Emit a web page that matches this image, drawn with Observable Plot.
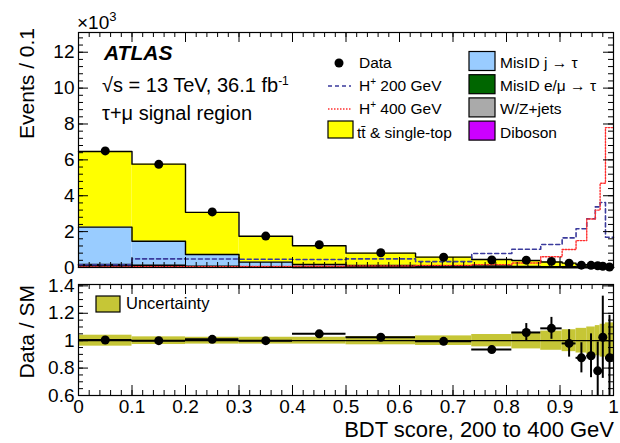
<!DOCTYPE html>
<html>
<head>
<meta charset="utf-8">
<script src="https://cdn.jsdelivr.net/npm/d3@7"></script>
<script src="https://cdn.jsdelivr.net/npm/@observablehq/plot@0.6"></script>
<style>
  html, body { margin: 0; padding: 0; background: #fff; }
  #wrap { position: relative; width: 620px; height: 443px; font-family: "Liberation Sans", Arial, sans-serif; }
  #wrap > svg, #wrap > div { position: absolute; left: 0; overflow: visible; }
</style>
</head>
<body>
<div id="wrap"></div>
<script>
// ---- data ----
const binEdges = [0, 0.1, 0.2, 0.3, 0.4, 0.5, 0.63, 0.735, 0.81, 0.864, 0.904, 0.93, 0.95, 0.966, 0.975, 0.985, 1.0];
// stacked backgrounds, bottom to top (×10^3 events / 0.1)
const diboson  = [0.02, 0.015, 0.008, 0.005, 0.004, 0.003, 0.002, 0.002, 0.001, 0.001, 0.001, 0.001, 0.001, 0.001, 0.0005, 0.0005];
const wzJets   = [0.08, 0.06, 0.035, 0.025, 0.02, 0.012, 0.009, 0.007, 0.005, 0.004, 0.003, 0.002, 0.002, 0.002, 0.001, 0.001];
const misidLep = [0.07, 0.05, 0.03, 0.02, 0.015, 0.01, 0.008, 0.006, 0.005, 0.004, 0.003, 0.002, 0.002, 0.002, 0.001, 0.001];
const misidJet = [2.08, 1.335, 0.65, 0.25, 0.13, 0.095, 0.08, 0.065, 0.054, 0.041, 0.033, 0.02, 0.017, 0.015, 0.009, 0.004];
const ttbar    = [4.22, 4.30, 2.35, 1.44, 1.04, 0.68, 0.48, 0.37, 0.325, 0.26, 0.205, 0.125, 0.113, 0.108, 0.056, 0.028];
const hplus200 = [0.15, 0.48, 0.47, 0.46, 0.45, 0.48, 0.33, 0.78, 1.02, 1.28, 1.65, 2.16, 2.72, 3.38, 3.62, 1.69];
const hplus400 = [0.03, 0.04, 0.05, 0.06, 0.07, 0.09, 0.12, 0.16, 0.25, 0.6, 1.0, 1.5, 2.7, 3.2, 4.7, 7.8];
const dataVals = [6.5, 5.75, 3.1, 1.75, 1.27, 0.82, 0.57, 0.42, 0.41, 0.34, 0.24, 0.13, 0.12, 0.10, 0.07, 0.03];
// ratio panel
const ratioVals = [1.005, 1.0, 1.01, 1.0, 1.05, 1.025, 0.995, 0.935, 1.06, 1.09, 0.98, 0.875, 0.89, 0.78, 1.025, 0.875];
const ratioErr  = [0.008, 0.01, 0.012, 0.016, 0.02, 0.02, 0.025, 0.025, 0.065, 0.08, 0.1, 0.11, 0.16, 0.21, 0.3, 0.31];
const uncertainty = [0.04, 0.028, 0.025, 0.025, 0.025, 0.03, 0.035, 0.045, 0.06, 0.07, 0.08, 0.09, 0.1, 0.11, 0.12, 0.13];
// ticks
const xTickLabels = [0, 0.1, 0.2, 0.3, 0.4, 0.5, 0.6, 0.7, 0.8, 0.9, 1];
const yTopTicks = [0, 2, 4, 6, 8, 10, 12];
const yRatioTicks = [0.6, 0.8, 1, 1.2, 1.4];

// ---- styles ----
const layers = [
  {name: "Diboson", vals: diboson, color: "#cc00ff"},
  {name: "W/Z+jets", vals: wzJets, color: "#aaaaaa"},
  {name: "MisID e/μ → τ", vals: misidLep, color: "#006600"},
  {name: "MisID j → τ", vals: misidJet, color: "#99ccff"},
  {name: "tt̄ & single-top", vals: ttbar, color: "#ffff00"}
];
const bandColor = "#c6c636";
const c200 = "#3a3a9c", c400 = "#ff3030";

const W = 620, mL = 78, mR = 7;
const frameW = W - mL - mR;
const nb = binEdges.length - 1;
const centers = d3.range(nb).map(i => (binEdges[i] + binEdges[i + 1]) / 2);

// stacked rows
let cum = new Array(nb).fill(0);
const rectMarks = [], outlineMarks = [];
for (const L of layers) {
  const rows = d3.range(nb).map(i => ({x1: binEdges[i], x2: binEdges[i + 1], y1: cum[i], y2: cum[i] + L.vals[i]}));
  cum = cum.map((c, i) => c + L.vals[i]);
  rectMarks.push(Plot.rect(rows, {x1: "x1", x2: "x2", y1: "y1", y2: "y2", fill: L.color}));
  const pts = rows.map(r => ({x: r.x1, y: r.y2}));
  pts.push({x: 1, y: rows[nb - 1].y2});
  outlineMarks.push(Plot.line(pts, {x: "x", y: "y", curve: "step-after", stroke: "black", strokeWidth: 1.4}));
}
function stepPts(vals) {
  const p = vals.map((v, i) => ({x: binEdges[i], y: v}));
  p.push({x: 1, y: vals[vals.length - 1]});
  return p;
}

function tickMarks(frameH, xMinor, yMajor, yMinor) {
  const xMaj = xTickLabels;
  const M = 10, m = 5;
  return [
    Plot.tickX(xMaj, {x: d => d, insetTop: frameH - M, stroke: "black"}),
    Plot.tickX(xMaj, {x: d => d, insetBottom: frameH - M, stroke: "black"}),
    Plot.tickX(xMinor, {x: d => d, insetTop: frameH - m, stroke: "black"}),
    Plot.tickX(xMinor, {x: d => d, insetBottom: frameH - m, stroke: "black"}),
    Plot.tickY(yMajor, {y: d => d, insetRight: frameW - M, stroke: "black"}),
    Plot.tickY(yMajor, {y: d => d, insetLeft: frameW - M, stroke: "black"}),
    Plot.tickY(yMinor, {y: d => d, insetRight: frameW - m, stroke: "black"}),
    Plot.tickY(yMinor, {y: d => d, insetLeft: frameW - m, stroke: "black"})
  ];
}
const xMinor = d3.range(0, 51).map(i => +(i * 0.02).toFixed(2));

// ---- top panel ----
const topH = 270, topMT = 32, topMB = 3;
const topFrameH = topH - topMT - topMB;
const topPlot = Plot.plot({
  width: W, height: topH,
  marginLeft: mL, marginRight: mR, marginTop: topMT, marginBottom: topMB,
  style: {fontFamily: "Liberation Sans, Arial, sans-serif", fontSize: "19px", background: "transparent", overflow: "visible"},
  x: {domain: [0, 1], axis: null},
  y: {domain: [0, 13.1]},
  marks: [
    ...rectMarks,
    ...outlineMarks,
    Plot.line(stepPts(hplus200), {x: "x", y: "y", curve: "step-after", stroke: c200, strokeWidth: 1.6, strokeDasharray: "4,3"}),
    Plot.line(stepPts(hplus400), {x: "x", y: "y", curve: "step-after", stroke: c400, strokeWidth: 1.4, strokeDasharray: "1.5,1.5"}),
    Plot.dot(dataVals.map((v, i) => ({x: centers[i], y: v})), {x: "x", y: "y", r: 4.5, fill: "black"}),
    ...tickMarks(topFrameH, xMinor, yTopTicks, d3.range(0, 33).map(i => +(i * 0.4).toFixed(1)).filter(v => v <= 13.1)),
    Plot.axisY(yTopTicks, {tickSize: 0, tickPadding: 4, label: null, fontSize: 19}),
    Plot.frame({stroke: "black", strokeWidth: 1.2})
  ]
});
topPlot.style.top = "0px";

// ---- ratio panel ----
const rH = 173, rMT = 14, rMB = 48;
const rFrameH = rH - rMT - rMB;
const ratioPlot = Plot.plot({
  width: W, height: rH,
  marginLeft: mL, marginRight: mR, marginTop: rMT, marginBottom: rMB,
  style: {fontFamily: "Liberation Sans, Arial, sans-serif", fontSize: "19px", background: "transparent", overflow: "visible"},
  x: {domain: [0, 1]},
  y: {domain: [0.6, 1.41]},
  marks: [
    Plot.rect(d3.range(nb).map(i => ({x1: binEdges[i], x2: binEdges[i + 1], y1: 1 - uncertainty[i], y2: 1 + uncertainty[i]})),
      {x1: "x1", x2: "x2", y1: "y1", y2: "y2", fill: bandColor}),
    Plot.ruleY([1], {stroke: "black", strokeWidth: 1.2}),
    Plot.ruleY(d3.range(nb).map(i => ({x1: binEdges[i], x2: binEdges[i + 1], y: ratioVals[i]})),
      {x1: "x1", x2: "x2", y: "y", stroke: "black", strokeWidth: 2}),
    Plot.ruleX(d3.range(nb).map(i => ({x: centers[i], y1: ratioVals[i] - ratioErr[i], y2: ratioVals[i] + ratioErr[i]})),
      {x: "x", y1: "y1", y2: "y2", stroke: "black", strokeWidth: 2, clip: true}),
    Plot.dot(d3.range(nb).map(i => ({x: centers[i], y: ratioVals[i]})), {x: "x", y: "y", r: 4.5, fill: "black"}),
    ...tickMarks(rFrameH, xMinor, yRatioTicks, d3.range(0, 17).map(i => +(0.6 + i * 0.05).toFixed(2))),
    Plot.axisY(yRatioTicks, {tickSize: 0, tickPadding: 4, label: null, fontSize: 19, tickFormat: d => String(+d.toFixed(1))}),
    Plot.axisX(xTickLabels, {tickSize: 0, tickPadding: 4, label: null, fontSize: 19, tickFormat: d => String(+d.toFixed(1))}),
    Plot.frame({stroke: "black", strokeWidth: 1.2})
  ]
});
ratioPlot.style.top = "270px";

const wrap = document.getElementById("wrap");
wrap.appendChild(topPlot);
wrap.appendChild(ratioPlot);

// ---- overlay: titles, labels, legends ----
const ov = d3.select(wrap).append("svg")
  .attr("width", W).attr("height", 443)
  .style("position", "absolute").style("top", "0px").style("left", "0px")
  .style("font-family", "Liberation Sans, Arial, sans-serif");

function sup(sel, base, s, after, size) {
  sel.append("tspan").text(base);
  sel.append("tspan").attr("font-size", size).attr("dy", -size * 0.6).text(s);
  if (after) sel.append("tspan").attr("dy", size * 0.6).text(after);
}

// ×10^3
const x10 = ov.append("text").attr("x", 77).attr("y", 29).attr("font-size", 19);
x10.append("tspan").text("×10");
x10.append("tspan").attr("font-size", 13).attr("dy", -8).text("3");

// axis titles
ov.append("text").attr("transform", "translate(34,28) rotate(-90)").attr("text-anchor", "end").attr("font-size", 21).text("Events / 0.1");
ov.append("text").attr("transform", "translate(34,285) rotate(-90)").attr("text-anchor", "end").attr("font-size", 21).text("Data / SM");
ov.append("text").attr("x", 614).attr("y", 437).attr("text-anchor", "end").attr("font-size", 22).text("BDT score, 200 to 400 GeV");

// ATLAS header
ov.append("text").attr("x", 104).attr("y", 60).attr("font-size", 21).attr("font-weight", "bold").attr("font-style", "italic").text("ATLAS");
const ecm = ov.append("text").attr("x", 102).attr("y", 92).attr("font-size", 20);
sup(ecm, "√s = 13 TeV, 36.1 fb", "-1", null, 12);
ov.append("text").attr("x", 102).attr("y", 120).attr("font-size", 20).text("τ+μ signal region");

// legend column 1
const fs = 15.5;
ov.append("circle").attr("cx", 339).attr("cy", 63).attr("r", 4.5).attr("fill", "black");
ov.append("text").attr("x", 359).attr("y", 68).attr("font-size", fs).text("Data");
ov.append("line").attr("x1", 328).attr("x2", 351).attr("y1", 86).attr("y2", 86).attr("stroke", c200).attr("stroke-width", 1.6).attr("stroke-dasharray", "4,3");
sup(ov.append("text").attr("x", 359).attr("y", 91).attr("font-size", fs), "H", "+", " 200 GeV", 10);
ov.append("line").attr("x1", 328).attr("x2", 351).attr("y1", 109).attr("y2", 109).attr("stroke", c400).attr("stroke-width", 1.4).attr("stroke-dasharray", "1.5,1.5");
sup(ov.append("text").attr("x", 359).attr("y", 114).attr("font-size", fs), "H", "+", " 400 GeV", 10);
ov.append("rect").attr("x", 328).attr("y", 121).attr("width", 25).attr("height", 17).attr("fill", layers[4].color).attr("stroke", "black").attr("stroke-width", 1.2);
ov.append("text").attr("x", 357).attr("y", 137.5).attr("font-size", fs).text(layers[4].name);

// legend column 2
const col2 = [layers[3], layers[2], layers[1], layers[0]];
col2.forEach((L, k) => {
  const base = 68 + k * 23.2;
  ov.append("rect").attr("x", 469).attr("y", base - 16.5).attr("width", 26).attr("height", 19).attr("fill", L.color).attr("stroke", "black").attr("stroke-width", 1.2);
  ov.append("text").attr("x", 500).attr("y", base).attr("font-size", fs).text(L.name);
});

// ratio legend
ov.append("rect").attr("x", 96).attr("y", 296).attr("width", 24).attr("height", 16).attr("fill", bandColor).attr("stroke", "black").attr("stroke-width", 1.2);
ov.append("text").attr("x", 126).attr("y", 309).attr("font-size", 16.5).text("Uncertainty");
</script>
</body>
</html>
